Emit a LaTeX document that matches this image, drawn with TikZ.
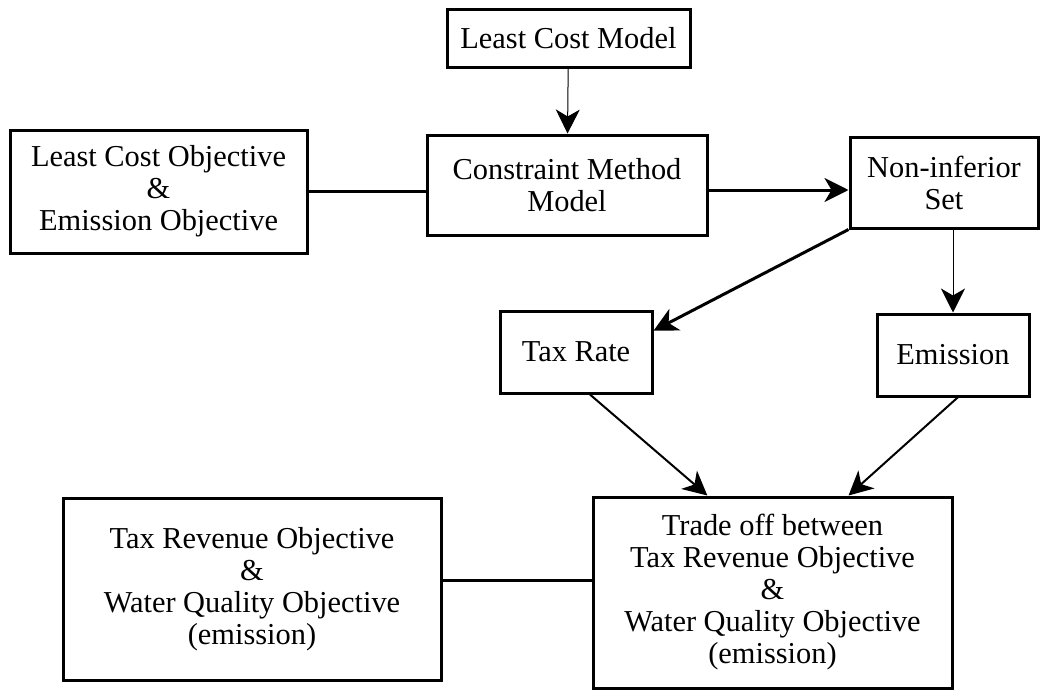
\documentclass[tikz,border=0pt]{standalone}
\usepackage{fontspec}
\setmainfont{Liberation Serif}
\usepackage{tikz}
\usetikzlibrary{arrows.meta, calc}

\begin{document}
\begin{tikzpicture}[
      x=0.5pt, y=-0.5pt,
      box/.style={rectangle, draw=black, line width=1.5pt, inner sep=0pt, fill=white,
                  align=center, font=\fontsize{15.2}{16}\selectfont},
      link/.style={line width=1.5pt},
      arr/.style={-{Stealth[length=12pt, width=12pt, inset=3.5pt]}, line width=1.5pt},
      thinarr/.style={arr, line width=0.5pt},
      midarr/.style={arr, line width=1pt}
    ]
      \useasboundingbox[fill=white] (0,0) rectangle (1041,691);
      \node[box, minimum width=121.5pt, minimum height=29pt] (lcm) at (568.5,38) {Least Cost Model};
      \node[box, minimum width=148.5pt, minimum height=61.5pt] (lco) at (158.5,191.5) {Least Cost Objective\\\&\\Emission Objective};
      \node[box, minimum width=140pt, minimum height=50pt] (cmm) at (567,185) {Constraint Method\\Model};
      \node[box, minimum width=94pt, minimum height=45.5pt] (nis) at (944,182.5) {Non-inferior\\Set};
      \node[box, minimum width=76pt, minimum height=41pt] (tax) at (576,352) {Tax Rate};
      \node[box, minimum width=76pt, minimum height=41pt] (emis) at (953,355) {Emission};
      \node[box, minimum width=189pt, minimum height=91pt] (rev) at (252,589) {Tax Revenue Objective\\\&\\Water Quality Objective\\(emission)};
      \node[box, minimum width=179.5pt, minimum height=95.5pt] (trade) at (772.5,592.5) {Trade off between\\Tax Revenue Objective\\\&\\Water Quality Objective\\(emission)};
      \draw[thinarr] (lcm) -- (cmm);
      \draw[link] (lco.east) -- (lco.east -| cmm.west);
      \draw[arr] ([yshift=-2.5pt]cmm.east) -- ([yshift=-2.5pt]cmm.east -| nis.west);
      \draw[arr] (nis.south west) -- ($(tax.north east)!0.25!(tax.south east)$);
      \draw[thinarr] (emis.north |- nis.south) -- (emis.north);
      \draw[midarr] ($(tax.south west)!0.59!(tax.south east)$) -- ($(trade.north west)!0.32!(trade.north east)$);
      \draw[midarr] ($(emis.south west)!0.53!(emis.south east)$) -- ($(trade.north west)!0.71!(trade.north east)$);
      \draw[link] ([yshift=4.5pt]rev.east) -- ([yshift=4.5pt]rev.east -| trade.west);
    \end{tikzpicture}
\end{document}
